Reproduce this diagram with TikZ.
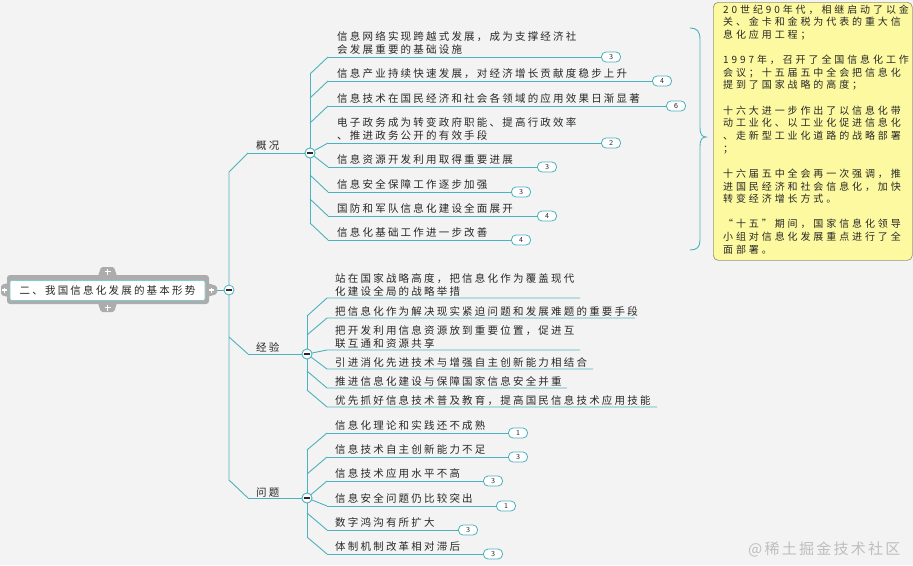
\documentclass[tikz,border=0pt]{standalone}
\usepackage{fontspec}
\newfontfamily\cjk[LetterSpace=21]{Noto Sans CJK SC}
\newfontfamily\cjknote[LetterSpace=29]{Noto Sans CJK SC}
\newfontfamily\cjkwm[LetterSpace=15]{Noto Sans CJK SC}
\definecolor{bg}{RGB}{243,243,243}
\definecolor{tl}{RGB}{76,178,190}
\definecolor{txt}{RGB}{40,40,40}
\definecolor{notefill}{RGB}{252,249,160}
\definecolor{noteedge}{RGB}{150,150,120}
\definecolor{rootgray}{RGB}{172,172,172}
\definecolor{wmc}{RGB}{190,190,190}
\tikzset{
  conn/.style={draw=tl, line width=0.9pt},
  leaf/.style={inner sep=0pt, text=txt, font=\cjk\fontsize{10.5}{13}\selectfont, align=left},
  lab/.style={inner sep=0pt, text=txt, font=\cjk\fontsize{10.5}{13}\selectfont},
  badge/.style={draw=tl, fill=white, line width=0.8pt, rounded corners=4.5pt, minimum width=19pt, minimum height=10pt, inner sep=0pt, font=\sffamily\fontsize{7.5}{8}\selectfont, text=txt},
  fold/.style={circle, draw=tl, fill=white, line width=0.8pt, minimum size=10pt, inner sep=0pt,
    path picture={\draw[line width=1.5pt, txt] ([xshift=-2.6pt]path picture bounding box.center) -- ([xshift=2.6pt]path picture bounding box.center);}},
  tab/.style={fill=rootgray, rounded corners=1.5pt},
  plus/.style={draw=white, line width=1.1pt},
  rootbox/.style={draw=tl!70, fill=white, line width=0.6pt, rounded corners=2pt, minimum width=195pt, minimum height=20pt, inner sep=0pt, text=txt, font=\cjk\fontsize{10.5}{13}\selectfont},
  notebox/.style={draw=noteedge, fill=notefill, line width=0.7pt, rounded corners=5pt, minimum width=199pt, minimum height=258pt, inner sep=0pt},
  notetext/.style={inner sep=0pt, text=txt, align=left, font=\cjknote\fontsize{10}{12.63}\selectfont},
  wmstyle/.style={inner sep=0pt, text=wmc, font=\cjkwm\fontsize{15}{16}\selectfont},
}
\begin{document}
\begin{tikzpicture}[x=1pt,y=-1pt]
\useasboundingbox (0,0) rectangle (913,565);
\fill[bg] (0,0) rectangle (913,565);

% ---------- root ----------
\fill[rootgray, rounded corners=3pt] (7,275) rectangle (209,304);
\fill[tab] (98,276) -- (101,267) -- (114,267) -- (117,276) -- cycle;
\fill[tab] (98,303) -- (101,312) -- (114,312) -- (117,303) -- cycle;
\fill[tab] (8,283) -- (1,285) -- (1,295) -- (8,297) -- cycle;
\fill[tab] (207,283) -- (217,286) -- (217,294) -- (207,297) -- cycle;
\draw[plus] (104.5,271.5) -- (110.5,271.5) (107.5,268.5) -- (107.5,274.5);
\draw[plus] (104.5,307.5) -- (110.5,307.5) (107.5,304.5) -- (107.5,310.5);
\draw[plus] (2,290) -- (7,290) (4.5,287.5) -- (4.5,292.5);
\draw[plus] (209,290) -- (214,290) (211.5,287.5) -- (211.5,292.5);
\node[rootbox] (root) at (107.5,290.5) {二、我国信息化发展的基本形势};
\coordinate (rt) at (217,290);

% ---------- main spine ----------
\coordinate (s1) at (229,172);
\coordinate (s2) at (229,480);
\coordinate (s3) at (229,337);
\coordinate (k1s) at (248,153);
\coordinate (k2s) at (248,354);
\coordinate (k3s) at (248,498);
\draw[conn] (k1s) -- (s1) -- (s2) -- (k3s);
\draw[conn] (s3) -- (k2s);

\node[fold] (k1) at (310,153) {};
\node[fold] (k2) at (307,354) {};
\node[fold] (k3) at (307,498) {};
\draw[conn] (k1s) -- (k1);
\draw[conn] (k2s) -- (k2);
\draw[conn] (k3s) -- (k3);
\node[lab, anchor=base west] (k1t) at (256,149) {概况};
\node[lab, anchor=base west] (k2t) at (256,351) {经验};
\node[lab, anchor=base west] (k3t) at (256,496) {问题};

% ---------- 概况 children ----------
\coordinate (a1) at (310,74);
\coordinate (a2) at (310,98);
\coordinate (a3) at (310,123);
\coordinate (a6) at (310,175);
\coordinate (a7) at (310,199);
\coordinate (a8) at (310,223);
\draw[conn] (a1) -- (a8);
\node[fold] at (k1) {};

\coordinate (g1u) at (328,57);
\coordinate (g2u) at (328,81);
\coordinate (g3u) at (328,106);
\coordinate (g4u) at (328,143);
\coordinate (g5u) at (328,167);
\coordinate (g6u) at (328,192);
\coordinate (g7u) at (328,216);
\coordinate (g8u) at (328,240);
\draw[conn] (a1) -- (g1u);
\draw[conn] (a2) -- (g2u);
\draw[conn] (a3) -- (g3u);
\draw[conn] (k1) -- (g4u);
\draw[conn] (k1) -- (g5u);
\draw[conn] (a6) -- (g6u);
\draw[conn] (a7) -- (g7u);
\draw[conn] (a8) -- (g8u);

\node[badge] (g1b) at (611,57) {3};
\node[badge] (g2b) at (662,81) {4};
\node[badge] (g3b) at (676,106) {6};
\node[badge] (g4b) at (611,143) {2};
\node[badge] (g5b) at (547,167) {3};
\node[badge] (g6b) at (521,192) {3};
\node[badge] (g7b) at (547,216) {4};
\node[badge] (g8b) at (521,240) {4};
\draw[conn] (g1u) -- (g1b);
\draw[conn] (g2u) -- (g2b);
\draw[conn] (g3u) -- (g3b);
\draw[conn] (g4u) -- (g4b);
\draw[conn] (g5u) -- (g5b);
\draw[conn] (g6u) -- (g6b);
\draw[conn] (g7u) -- (g7b);
\draw[conn] (g8u) -- (g8b);

\node[leaf, anchor=north west] (g1) at (337,31.8) {信息网络实现跨越式发展，成为支撑经济社\\会发展重要的基础设施};
\node[leaf, anchor=base west] (g2) at (337,77.5) {信息产业持续快速发展，对经济增长贡献度稳步上升};
\node[leaf, anchor=base west] (g3) at (337,102.5) {信息技术在国民经济和社会各领域的应用效果日渐显著};
\node[leaf, anchor=north west] (g4) at (337,117.8) {电子政务成为转变政府职能、提高行政效率\\、推进政务公开的有效手段};
\node[leaf, anchor=base west] (g5) at (337,163.5) {信息资源开发利用取得重要进展};
\node[leaf, anchor=base west] (g6) at (337,188.5) {信息安全保障工作逐步加强};
\node[leaf, anchor=base west] (g7) at (337,212.5) {国防和军队信息化建设全面展开};
\node[leaf, anchor=base west] (g8) at (337,236.5) {信息化基础工作进一步改善};

% ---------- 经验 children ----------
\coordinate (j1) at (307,316);
\coordinate (j2) at (307,335);
\coordinate (j5) at (307,371);
\coordinate (j6) at (307,390);
\draw[conn] (j1) -- (j6);
\node[fold] at (k2) {};
\coordinate (h1u) at (327,298);
\coordinate (h2u) at (327,318);
\coordinate (h3u) at (327,350);
\coordinate (h4u) at (327,369);
\coordinate (h5u) at (327,388);
\coordinate (h6u) at (327,407);
\coordinate (h1e) at (580,298);
\coordinate (h2e) at (635,318);
\coordinate (h3e) at (580,350);
\coordinate (h4e) at (593,369);
\coordinate (h5e) at (567,388);
\coordinate (h6e) at (657,407);
\draw[conn] (j1) -- (h1u) -- (h1e);
\draw[conn] (j2) -- (h2u) -- (h2e);
\draw[conn] (k2) -- (h3u) -- (h3e);
\draw[conn] (k2) -- (h4u) -- (h4e);
\draw[conn] (j5) -- (h5u) -- (h5e);
\draw[conn] (j6) -- (h6u) -- (h6e);
\node[leaf, anchor=north west] (h1) at (335,273.3) {站在国家战略高度，把信息化作为覆盖现代\\化建设全局的战略举措};
\node[leaf, anchor=base west] (h2) at (335,315) {把信息化作为解决现实紧迫问题和发展难题的重要手段};
\node[leaf, anchor=north west] (h3) at (335,325.3) {把开发利用信息资源放到重要位置，促进互\\联互通和资源共享};
\node[leaf, anchor=base west] (h4) at (335,366) {引进消化先进技术与增强自主创新能力相结合};
\node[leaf, anchor=base west] (h5) at (335,385) {推进信息化建设与保障国家信息安全并重};
\node[leaf, anchor=base west] (h6) at (335,404) {优先抓好信息技术普及教育，提高国民信息技术应用技能};

% ---------- 问题 children ----------
\coordinate (q1) at (307,450);
\coordinate (q2) at (307,474);
\coordinate (q5) at (307,513);
\coordinate (q6) at (307,537);
\draw[conn] (q1) -- (q6);
\node[fold] at (k3) {};
\coordinate (p1u) at (327,433);
\coordinate (p2u) at (327,457);
\coordinate (p3u) at (327,481);
\coordinate (p4u) at (327,506);
\coordinate (p5u) at (327,530);
\coordinate (p6u) at (327,554);
\draw[conn] (q1) -- (p1u);
\draw[conn] (q2) -- (p2u);
\draw[conn] (k3) -- (p3u);
\draw[conn] (k3) -- (p4u);
\draw[conn] (q5) -- (p5u);
\draw[conn] (q6) -- (p6u);
\node[badge] (p1b) at (518,433) {1};
\node[badge] (p2b) at (518,457) {3};
\node[badge] (p3b) at (493,481) {3};
\node[badge] (p4b) at (506,506) {1};
\node[badge] (p5b) at (468,530) {3};
\node[badge] (p6b) at (493,554) {3};
\draw[conn] (p1u) -- (p1b);
\draw[conn] (p2u) -- (p2b);
\draw[conn] (p3u) -- (p3b);
\draw[conn] (p4u) -- (p4b);
\draw[conn] (p5u) -- (p5b);
\draw[conn] (p6u) -- (p6b);
\node[leaf, anchor=base west] (p1) at (335,429.5) {信息化理论和实践还不成熟};
\node[leaf, anchor=base west] (p2) at (335,453.5) {信息技术自主创新能力不足};
\node[leaf, anchor=base west] (p3) at (335,477.5) {信息技术应用水平不高};
\node[leaf, anchor=base west] (p4) at (335,502.5) {信息安全问题仍比较突出};
\node[leaf, anchor=base west] (p5) at (335,526.5) {数字鸿沟有所扩大};
\node[leaf, anchor=base west] (p6) at (335,550.5) {体制机制改革相对滞后};

% ---------- root connector ----------
\node[fold] (r0) at (229,290) {};
\draw[conn] (rt) -- (r0);

% ---------- summary brace and note ----------
\coordinate (bt) at (690,28);
\coordinate (bb) at (690,250);
\coordinate (btip) at (706,137);
\draw[conn] (bt) .. controls (697,28) and (700,31) .. (700,40) -- (700,128)
  .. controls (700,134) and (702,137) .. (btip)
  .. controls (702,137) and (700,140) .. (700,146) -- (700,240)
  .. controls (700,247) and (697,250) .. (bb);
\node[notebox, anchor=north west] (note) at (713,2) {};
\node[notetext, anchor=north west] (notetxt) at (723,4.5) {%
20世纪90年代，相继启动了以金\\
关、金卡和金税为代表的重大信\\
息化应用工程；\\
~\\
1997年，召开了全国信息化工作\\
会议；十五届五中全会把信息化\\
提到了国家战略的高度；\\
~\\
十六大进一步作出了以信息化带\\
动工业化、以工业化促进信息化\\
、走新型工业化道路的战略部署\\
；\\
~\\
十六届五中全会再一次强调，推\\
进国民经济和社会信息化，加快\\
转变经济增长方式。\\
~\\
“十五”期间，国家信息化领导\\
小组对信息化发展重点进行了全\\
面部署。};

% ---------- watermark ----------
\node[wmstyle, anchor=west] (wm) at (748,549) {@稀土掘金技术社区};
\end{tikzpicture}
\end{document}
